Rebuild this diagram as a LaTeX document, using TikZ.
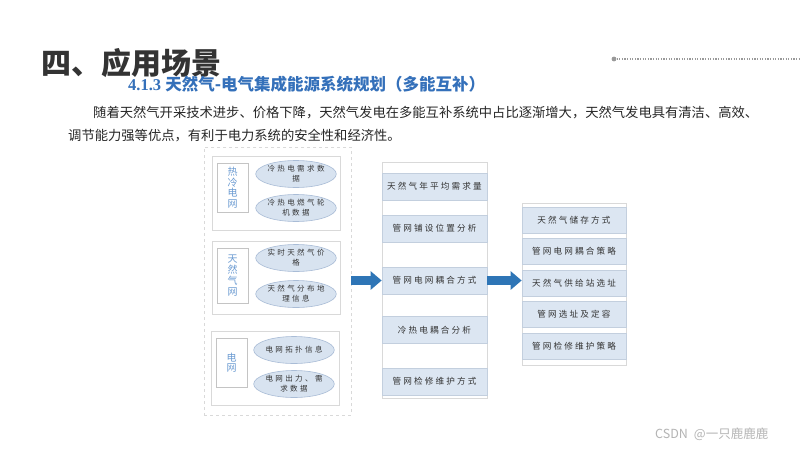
\documentclass[tikz,border=0pt]{standalone}
\usepackage{fontspec}
\setmainfont{Noto Sans CJK SC}
\newfontfamily\serifb{Liberation Serif}
\newfontfamily\spacedA{Noto Sans CJK SC}[LetterSpace=25]
\newfontfamily\spacedB{Noto Sans CJK SC}[LetterSpace=32]
\usetikzlibrary{arrows.meta,shapes.geometric}
\definecolor{titlegray}{HTML}{333333}
\definecolor{subblue}{HTML}{3470BA}
\definecolor{paratext}{HTML}{262626}
\definecolor{framegray}{HTML}{D9D9D9}
\definecolor{labelborder}{HTML}{C4C4C4}
\definecolor{labelblue}{HTML}{6B9BD2}
\definecolor{ellfill}{HTML}{D8E3F0}
\definecolor{ellborder}{HTML}{A9BCD6}
\definecolor{itemfill}{HTML}{DCE6F2}
\definecolor{itemborder}{HTML}{C3CFDE}
\definecolor{arrowblue}{HTML}{2E75B6}
\definecolor{boxtext}{HTML}{333333}
\definecolor{wmgray}{HTML}{B4B4B4}
\begin{document}
\begin{tikzpicture}[x=1pt,y=-1pt,
  outerbox/.style={draw=framegray,dashed,line width=0.9pt,inner sep=0pt,minimum width=147pt,minimum height=268pt},
  groupbox/.style={draw=framegray,line width=0.9pt,inner sep=0pt,minimum width=128pt,minimum height=74pt},
  labelbox/.style={draw=labelborder,line width=0.8pt,inner sep=0pt,minimum width=31pt,text=labelblue,align=center,font=\fontsize{10}{10.6}\selectfont},
  ell/.style={ellipse,draw=ellborder,fill=ellfill,line width=0.6pt,inner sep=0pt,minimum width=74pt,minimum height=27pt,align=center,text=boxtext,font=\spacedB\fontsize{7.5}{10}\selectfont},
  colbox/.style={draw=framegray,line width=0.7pt,fill=white,inner sep=0pt},
  item/.style={draw=itemborder,fill=itemfill,line width=0.7pt,inner sep=0pt,minimum width=105pt,minimum height=27pt,text=boxtext,font=\spacedA\fontsize{8.6}{10}\selectfont},
  ritem/.style={item,minimum width=104pt,minimum height=26pt},
  bigarrow/.style={draw=arrowblue,line width=9pt,-{Triangle[length=11pt,width=18pt]}}
]
\useasboundingbox (0,0) rectangle (800,450);
\fill[white] (0,0) rectangle (800,450);

% title and header line
\node[anchor=west,inner sep=0pt,text=titlegray,font=\fontsize{30}{36}\selectfont\bfseries] (title) at (41,63) {四、应用场景};
\coordinate (dotstart) at (614,59);
\coordinate (dotend) at (800,59);
\fill[gray!80] (dotstart) circle (2.4);
\draw[gray!80,line width=1.2pt,dash pattern=on 1.2pt off 1.4pt] (dotstart) -- (dotend);

\node[anchor=west,inner sep=0pt,text=subblue,font=\fontsize{16.5}{20}\selectfont\bfseries] (sub) at (128,84) {{\serifb\bfseries 4.1.3 }天然气-电气集成能源系统规划（多能互补）};

\node[anchor=west,inner sep=0pt,text=paratext,font=\fontsize{13.3}{16}\selectfont] (p1) at (93,113) {随着天然气开采技术进步、价格下降，天然气发电在多能互补系统中占比逐渐增大，天然气发电具有清洁、高效、};
\node[anchor=west,inner sep=0pt,text=paratext,font=\fontsize{13.3}{16}\selectfont] (p2) at (68,136) {调节能力强等优点，有利于电力系统的安全性和经济性。};

% left source container
\node[outerbox] (src) at (277.5,281) {};
\node[groupbox] (g1) at (276,193) {};
\node[groupbox,minimum height=73pt] (g2) at (276,277.5) {};
\node[groupbox,minimum width=128pt] (g3) at (275,368) {};

\node[labelbox,minimum height=49pt] (l1) at (232.5,187.5) {热\\冷\\电\\网};
\node[labelbox,minimum height=55pt,font=\fontsize{10}{11}\selectfont] (l2) at (232.5,275.5) {天\\然\\气\\网};
\node[labelbox,minimum height=49pt] (l3) at (231.5,362.5) {电\\网};

\node[ell] (e1) at (296,174) {冷热电需求数\\据};
\node[ell] (e2) at (296,208) {冷热电燃气轮\\机数据};
\node[ell] (e3) at (296,258) {实时天然气价\\格};
\node[ell] (e4) at (296,294) {天然气分布地\\理信息};
\node[ell] (e5) at (294,350) {电网拓扑信息};
\node[ell] (e6) at (294,384) {电网出力、需\\求数据};

% middle column
\node[colbox,minimum width=105pt,minimum height=236pt] (mcol) at (434.5,280) {};
\node[item] (m1) at (434.5,186.5) {天然气年平均需求量};
\node[item] (m2) at (434.5,228.5) {管网铺设位置分析};
\node[item] (m3) at (434.5,280.5) {管网电网耦合方式};
\node[item] (m4) at (434.5,330) {冷热电耦合分析};
\node[item] (m5) at (434.5,381.5) {管网检修维护方式};

% right column
\node[colbox,minimum width=104pt,minimum height=162pt] (rcol) at (574,284) {};
\node[ritem] (r1) at (574,220) {天然气储存方式};
\node[ritem] (r2) at (574,251) {管网电网耦合策略};
\node[ritem] (r3) at (574,283) {天然气供给站选址};
\node[ritem] (r4) at (574,314.5) {管网选址及定容};
\node[ritem] (r5) at (574,346) {管网检修维护策略};

% arrows
\draw[bigarrow] (src.east |- m3.west) -- (m3.west);
\draw[bigarrow] (m3.east) -- (m3.east -| rcol.west);

% watermark
\node[anchor=west,inner sep=0pt,text=wmgray,font=\fontsize{12.5}{14}\selectfont] (wm) at (655,434) {CSDN\hspace{6pt}@一只鹿鹿鹿};
\end{tikzpicture}
\end{document}
